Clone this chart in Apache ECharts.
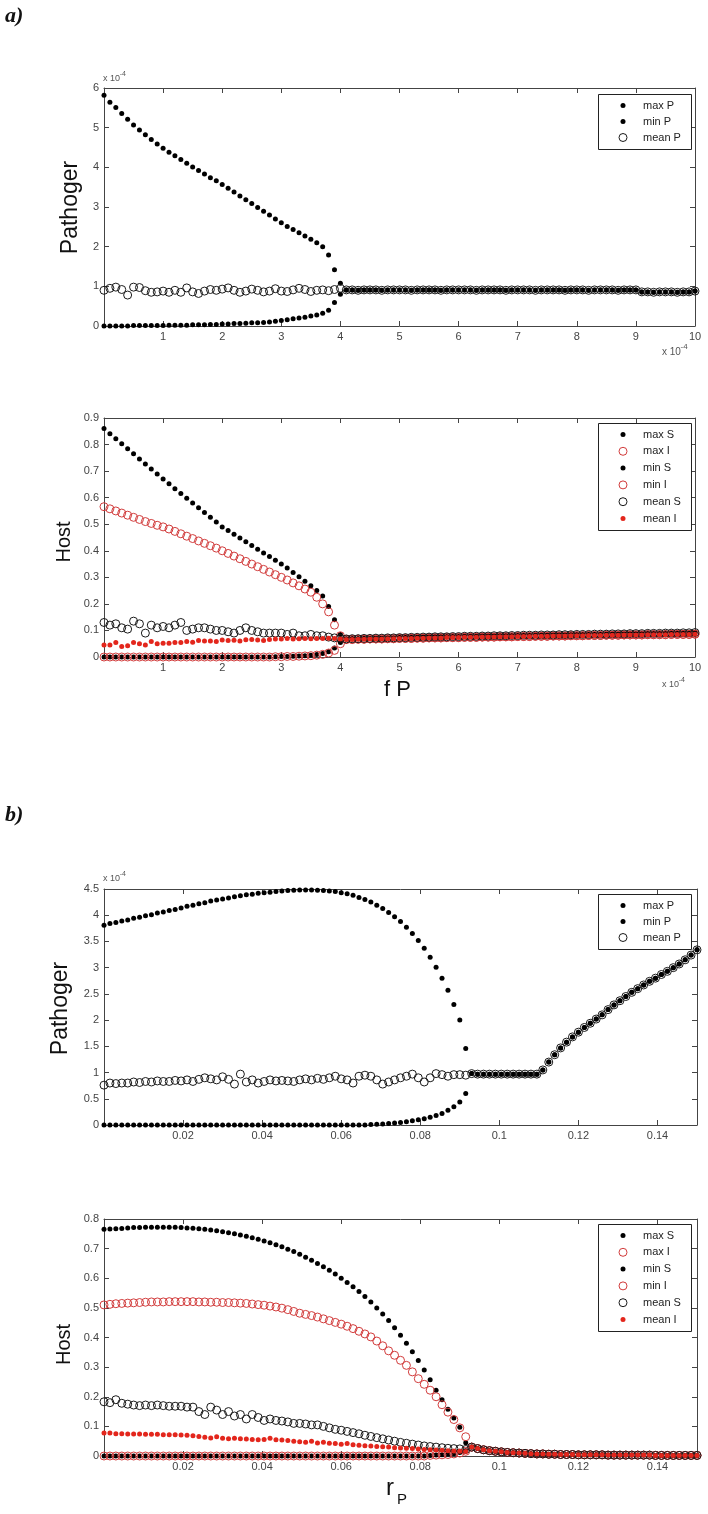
<!DOCTYPE html>
<html><head><meta charset="utf-8">
<script src="https://cdn.jsdelivr.net/npm/echarts@6/dist/echarts.min.js"></script>
<style>html,body{margin:0;padding:0;background:#fff}#c{width:708px;height:1514px}</style>
</head><body><div id="c"></div>
<script>
// ---------- x grids ----------
const xA = [0,0.1,0.2,0.3,0.4,0.5,0.6,0.7,0.8,0.9,1,1.1,1.2,1.3,1.4,1.5,1.6,1.7,1.8,1.9,2,2.1,2.2,2.3,2.4,2.5,2.6,2.7,2.8,2.9,3,3.1,3.2,3.3,3.4,3.5,3.6,3.7,3.8,3.9,4,4.1,4.2,4.3,4.4,4.5,4.6,4.7,4.8,4.9,5,5.1,5.2,5.3,5.4,5.5,5.6,5.7,5.8,5.9,6,6.1,6.2,6.3,6.4,6.5,6.6,6.7,6.8,6.9,7,7.1,7.2,7.3,7.4,7.5,7.6,7.7,7.8,7.9,8,8.1,8.2,8.3,8.4,8.5,8.6,8.7,8.8,8.9,9,9.1,9.2,9.3,9.4,9.5,9.6,9.7,9.8,9.9,10];
const xB = [0,0.0015,0.003,0.0045,0.006,0.0075,0.009,0.0105,0.012,0.0135,0.015,0.0165,0.018,0.0195,0.021,0.0225,0.024,0.0255,0.027,0.0285,0.03,0.0315,0.033,0.0345,0.036,0.0375,0.039,0.0405,0.042,0.0435,0.045,0.0465,0.048,0.0495,0.051,0.0525,0.054,0.0555,0.057,0.0585,0.06,0.0615,0.063,0.0645,0.066,0.0675,0.069,0.0705,0.072,0.0735,0.075,0.0765,0.078,0.0795,0.081,0.0825,0.084,0.0855,0.087,0.0885,0.09,0.0915,0.093,0.0945,0.096,0.0975,0.099,0.1005,0.102,0.1035,0.105,0.1065,0.108,0.1095,0.111,0.1125,0.114,0.1155,0.117,0.1185,0.12,0.1215,0.123,0.1245,0.126,0.1275,0.129,0.1305,0.132,0.1335,0.135,0.1365,0.138,0.1395,0.141,0.1425,0.144,0.1455,0.147,0.1485,0.15];

// ---------- panel a: Pathogen (x 1e-4) ----------
const aMaxP = [5.82,5.64,5.51,5.36,5.21,5.07,4.94,4.82,4.70,4.59,4.48,4.38,4.29,4.20,4.10,4.01,3.92,3.83,3.74,3.66,3.57,3.47,3.38,3.28,3.18,3.09,2.99,2.89,2.80,2.70,2.60,2.51,2.43,2.35,2.27,2.19,2.10,2.00,1.79,1.42,1.08];
const aMinP = [0,0,0,0,0,0.01,0.01,0.01,0.01,0.01,0.01,0.02,0.02,0.02,0.02,0.03,0.03,0.03,0.04,0.04,0.05,0.05,0.06,0.06,0.07,0.08,0.08,0.09,0.10,0.12,0.14,0.16,0.18,0.20,0.22,0.25,0.28,0.32,0.40,0.59,0.80];
const aMeanP = [0.90,0.95,0.98,0.92,0.78,0.98,0.97,0.89,0.85,0.86,0.88,0.85,0.90,0.85,0.96,0.86,0.82,0.88,0.92,0.90,0.93,0.96,0.90,0.85,0.88,0.93,0.90,0.86,0.88,0.94,0.88,0.87,0.91,0.95,0.92,0.87,0.90,0.91,0.89,0.92,0.95];
const aPeq = [0.91,0.91,0.90,0.91,0.91,0.91,0.90,0.91,0.91,0.91,0.91,0.90,0.91,0.91,0.91,0.91,0.90,0.91,0.91,0.91,0.91,0.91,0.90,0.91,0.91,0.91,0.91,0.90,0.91,0.91,0.91,0.91,0.90,0.91,0.91,0.91,0.91,0.90,0.91,0.91,0.91,0.90,0.91,0.91,0.91,0.91,0.90,0.91,0.91,0.91,0.86,0.86,0.85,0.86,0.86,0.86,0.85,0.86,0.86,0.88];

// ---------- panel a: Host ----------
const aMaxS = [0.86,0.841,0.822,0.803,0.784,0.765,0.746,0.727,0.708,0.689,0.67,0.652,0.634,0.616,0.598,0.58,0.562,0.544,0.526,0.508,0.49,0.476,0.462,0.448,0.434,0.42,0.406,0.392,0.378,0.364,0.35,0.335,0.318,0.302,0.285,0.268,0.25,0.23,0.19,0.14,0.085];
const aMaxI = [0.566,0.558,0.55,0.542,0.534,0.526,0.518,0.51,0.503,0.496,0.49,0.482,0.473,0.464,0.455,0.446,0.437,0.428,0.419,0.41,0.40,0.39,0.38,0.37,0.36,0.35,0.34,0.33,0.32,0.31,0.30,0.29,0.279,0.268,0.256,0.244,0.225,0.20,0.17,0.12,0.08];
const aMinS = [0,0,0,0,0,0,0,0,0,0,0,0,0,0,0,0,0,0,0,0,0,0,0,0,0,0,0,0,0,0.001,0.002,0.002,0.003,0.004,0.005,0.007,0.009,0.013,0.02,0.034,0.055];
const aMinI = [0,0,0,0,0,0,0,0,0,0,0,0,0,0,0,0,0,0,0,0,0,0,0,0,0,0,0,0,0,0.001,0.001,0.002,0.002,0.003,0.004,0.005,0.007,0.01,0.015,0.025,0.05];
const aMeanS = [0.13,0.12,0.125,0.11,0.105,0.135,0.125,0.09,0.12,0.11,0.115,0.11,0.12,0.13,0.10,0.105,0.11,0.11,0.105,0.10,0.10,0.095,0.09,0.10,0.11,0.10,0.095,0.09,0.09,0.09,0.09,0.085,0.09,0.08,0.08,0.085,0.08,0.08,0.075,0.072,0.07];
const aMeanI = [0.045,0.045,0.055,0.04,0.042,0.055,0.05,0.045,0.058,0.05,0.052,0.052,0.055,0.055,0.058,0.056,0.062,0.06,0.06,0.058,0.064,0.062,0.063,0.06,0.065,0.066,0.064,0.062,0.066,0.068,0.068,0.07,0.068,0.069,0.07,0.069,0.07,0.07,0.071,0.07,0.068];
const aSeq = [0.068,0.069,0.069,0.07,0.07,0.071,0.071,0.072,0.072,0.073,0.073,0.074,0.074,0.075,0.075,0.076,0.076,0.076,0.077,0.077,0.078,0.078,0.078,0.079,0.079,0.08,0.08,0.08,0.081,0.081,0.082,0.082,0.082,0.083,0.083,0.083,0.084,0.084,0.084,0.085,0.085,0.085,0.086,0.086,0.086,0.087,0.087,0.087,0.088,0.088,0.088,0.089,0.089,0.089,0.09,0.09,0.09,0.091,0.091,0.092];
const aIeq = [0.066,0.066,0.067,0.067,0.068,0.068,0.068,0.069,0.069,0.07,0.07,0.07,0.071,0.071,0.072,0.072,0.072,0.073,0.073,0.073,0.074,0.074,0.074,0.075,0.075,0.075,0.076,0.076,0.076,0.077,0.077,0.077,0.078,0.078,0.078,0.079,0.079,0.079,0.08,0.08,0.08,0.081,0.081,0.081,0.082,0.082,0.082,0.083,0.083,0.083,0.083,0.084,0.084,0.084,0.084,0.085,0.085,0.085,0.085,0.086];

// ---------- panel b: Pathogen (x 1e-4) ----------
const bMaxP = [3.81,3.84,3.86,3.89,3.91,3.94,3.96,3.99,4.01,4.04,4.06,4.09,4.11,4.14,4.17,4.19,4.22,4.24,4.27,4.29,4.31,4.33,4.35,4.37,4.39,4.40,4.42,4.43,4.44,4.45,4.46,4.47,4.475,4.48,4.48,4.48,4.475,4.47,4.46,4.45,4.43,4.41,4.38,4.34,4.30,4.25,4.19,4.13,4.05,3.97,3.88,3.77,3.65,3.52,3.37,3.20,3.01,2.80,2.57,2.30,2.00,1.46];
const bMinP = [0,0,0,0,0,0,0,0,0,0,0,0,0,0,0,0,0,0,0,0,0,0,0,0,0,0,0,0,0,0,0,0,0,0,0,0,0,0,0,0,0,0,0,0,0,0.01,0.015,0.02,0.03,0.04,0.05,0.06,0.08,0.10,0.12,0.15,0.18,0.22,0.28,0.35,0.44,0.60];
const bMeanP = [0.76,0.80,0.79,0.80,0.80,0.82,0.81,0.83,0.82,0.84,0.83,0.83,0.85,0.84,0.86,0.83,0.87,0.90,0.88,0.86,0.92,0.87,0.78,0.97,0.82,0.86,0.80,0.83,0.86,0.84,0.85,0.84,0.83,0.86,0.88,0.86,0.89,0.87,0.90,0.93,0.88,0.86,0.80,0.93,0.95,0.93,0.86,0.78,0.82,0.86,0.90,0.93,0.97,0.90,0.82,0.90,0.98,0.96,0.93,0.96,0.96,0.95];
const bPeq = [0.98,0.97,0.97,0.97,0.97,0.97,0.97,0.97,0.97,0.97,0.97,0.97,1.05,1.20,1.34,1.47,1.58,1.68,1.77,1.86,1.94,2.02,2.10,2.20,2.29,2.37,2.45,2.53,2.60,2.67,2.74,2.80,2.87,2.93,3.00,3.07,3.15,3.24,3.34];

// ---------- panel b: Host ----------
const bMaxS = [0.765,0.766,0.767,0.768,0.77,0.771,0.771,0.772,0.772,0.772,0.772,0.772,0.772,0.771,0.77,0.769,0.767,0.765,0.763,0.76,0.757,0.754,0.75,0.746,0.742,0.737,0.732,0.726,0.72,0.713,0.706,0.698,0.69,0.681,0.671,0.661,0.65,0.639,0.627,0.614,0.6,0.586,0.571,0.555,0.538,0.52,0.5,0.479,0.457,0.433,0.408,0.381,0.352,0.322,0.29,0.257,0.222,0.19,0.158,0.128,0.097,0.045];
const bMaxI = [0.51,0.512,0.514,0.515,0.516,0.517,0.518,0.519,0.52,0.52,0.52,0.521,0.521,0.521,0.521,0.521,0.52,0.52,0.519,0.519,0.518,0.518,0.517,0.516,0.515,0.513,0.511,0.509,0.506,0.503,0.499,0.494,0.488,0.482,0.478,0.474,0.469,0.463,0.457,0.451,0.445,0.438,0.43,0.421,0.412,0.402,0.388,0.372,0.355,0.34,0.323,0.306,0.284,0.261,0.242,0.222,0.2,0.173,0.148,0.123,0.095,0.065];
const bMinS = [0,0,0,0,0,0,0,0,0,0,0,0,0,0,0,0,0,0,0,0,0,0,0,0,0,0,0,0,0,0,0,0,0,0,0,0,0,0,0,0,0,0,0,0,0,0,0,0,0,0,0,0,0,0,0,0.002,0.003,0.004,0.006,0.008,0.012,0.018];
const bMinI = [0,0,0,0,0,0,0,0,0,0,0,0,0,0,0,0,0,0,0,0,0,0,0,0,0,0,0,0,0,0,0,0,0,0,0,0,0,0,0,0,0,0,0,0,0,0,0,0,0,0,0,0,0,0,0,0.002,0.003,0.004,0.005,0.007,0.01,0.016];
const bMeanS = [0.183,0.18,0.19,0.178,0.175,0.172,0.17,0.172,0.17,0.172,0.17,0.168,0.168,0.168,0.165,0.165,0.15,0.14,0.165,0.155,0.14,0.15,0.135,0.14,0.125,0.14,0.13,0.12,0.125,0.12,0.118,0.115,0.11,0.11,0.108,0.105,0.105,0.1,0.095,0.09,0.087,0.083,0.079,0.075,0.07,0.066,0.062,0.058,0.054,0.05,0.046,0.043,0.04,0.037,0.034,0.032,0.03,0.028,0.026,0.025,0.024,0.022];
const bMeanI = [0.078,0.078,0.075,0.075,0.074,0.074,0.074,0.073,0.073,0.073,0.072,0.072,0.072,0.071,0.07,0.068,0.066,0.063,0.061,0.065,0.06,0.058,0.06,0.058,0.057,0.056,0.055,0.056,0.06,0.055,0.054,0.052,0.05,0.048,0.046,0.05,0.044,0.046,0.043,0.042,0.04,0.042,0.038,0.036,0.035,0.034,0.032,0.031,0.03,0.028,0.027,0.026,0.025,0.024,0.022,0.021,0.02,0.019,0.018,0.017,0.016,0.015];
const bHeq = [0.03,0.025,0.021,0.018,0.016,0.014,0.012,0.011,0.01,0.009,0.008,0.007,0.007,0.006,0.006,0.005,0.005,0.005,0.004,0.004,0.004,0.004,0.004,0.003,0.003,0.003,0.003,0.003,0.003,0.003,0.003,0.002,0.002,0.002,0.002,0.002,0.002,0.002,0.002];

// ---------- labels ----------
const pathNames = ['max P','min P','mean P'];
const hostNames = ['max S','max I','min S','min I','mean S','mean I'];
const yTitles = ['Pathoger','Host','Pathoger','Host'];

// ---------- styles ----------
const STY = {
  dotK: {symbol:'circle', symbolSize:5, itemStyle:{color:'#000', opacity:1}},
  ringK:{symbol:'circle', symbolSize:8, ring:true, itemStyle:{color:'rgba(0,0,0,0)', borderColor:'#1a1a1a', borderWidth:1, opacity:1}},
  ringR:{symbol:'circle', symbolSize:8, ring:true, itemStyle:{color:'rgba(0,0,0,0)', borderColor:'#d23c3c', borderWidth:1, opacity:1}},
  dotR: {symbol:'circle', symbolSize:5, itemStyle:{color:'#e3261c', opacity:1}}
};
const pathStyles = ['dotK','dotK','ringK'];
const hostStyles = ['dotK','ringR','dotK','ringR','ringK','dotR'];

const panels = [
  {grid:{left:104,top:88,width:591,height:238}, xMax:10, xInt:1, yMax:6, yInt:1, xs:xA, maxLbl:true,
   names:pathNames, styles:pathStyles,
   ys:[aMaxP.concat(aPeq), aMinP.concat(aPeq), aMeanP.concat(aPeq)],
   legend:{x:598,y:94,w:93,h:55}},
  {grid:{left:104,top:418,width:591,height:239}, xMax:10, xInt:1, yMax:0.9, yInt:0.1, xs:xA, maxLbl:true,
   names:hostNames, styles:hostStyles,
   ys:[aMaxS.concat(aSeq), aMaxI.concat(aIeq), aMinS.concat(aSeq), aMinI.concat(aIeq), aMeanS.concat(aSeq), aMeanI.concat(aIeq)],
   legend:{x:598,y:423,w:93,h:107}},
  {grid:{left:104,top:889,width:593,height:236}, xMax:0.15, xInt:0.02, yMax:4.5, yInt:0.5, xs:xB, maxLbl:false,
   names:pathNames, styles:pathStyles,
   ys:[bMaxP.concat(bPeq), bMinP.concat(bPeq), bMeanP.concat(bPeq)],
   legend:{x:598,y:894,w:93,h:55}},
  {grid:{left:104,top:1219,width:593,height:237}, xMax:0.15, xInt:0.02, yMax:0.8, yInt:0.1, xs:xB, maxLbl:false,
   names:hostNames, styles:hostStyles,
   ys:[bMaxS.concat(bHeq), bMaxI.concat(bHeq), bMinS.concat(bHeq), bMinI.concat(bHeq), bMeanS.concat(bHeq), bMeanI.concat(bHeq)],
   legend:{x:598,y:1224,w:93,h:107}}
];

const AX = '#444';
const LBL = {color:'#444', fontSize:11, fontFamily:'"Liberation Sans", Arial, sans-serif'};
const grids=[], xAxes=[], yAxes=[], series=[], graphics=[];
function fmt(v){ return v===0 ? '' : String(+v.toFixed(4)); }

panels.forEach((p,i)=>{
  grids.push(Object.assign({containLabel:false}, p.grid));
  const tick = {show:true, inside:true, length:5, lineStyle:{color:AX, width:1}};
  const line = {show:true, onZero:false, lineStyle:{color:AX, width:1}};
  xAxes.push({type:'value', gridIndex:i, position:'bottom', min:0, max:p.xMax, interval:p.xInt,
    axisLine:line, axisTick:tick, splitLine:{show:false},
    axisLabel:Object.assign({margin:5, formatter:fmt, showMaxLabel:p.maxLbl, showMinLabel:true}, LBL)});
  xAxes.push({type:'value', gridIndex:i, position:'top', min:0, max:p.xMax, interval:p.xInt,
    axisLine:line, axisTick:tick, splitLine:{show:false}, axisLabel:{show:false}});
  yAxes.push({type:'value', gridIndex:i, position:'left', min:0, max:p.yMax, interval:p.yInt,
    axisLine:line, axisTick:tick, splitLine:{show:false},
    axisLabel:Object.assign({margin:5, formatter:v=>String(+v.toFixed(4))}, LBL)});
  yAxes.push({type:'value', gridIndex:i, position:'right', min:0, max:p.yMax, interval:p.yInt,
    axisLine:line, axisTick:tick, splitLine:{show:false}, axisLabel:{show:false}});
  p.names.forEach((nm,j)=>{
    const st = STY[p.styles[j]];
    series.push({type:'scatter', name:nm, xAxisIndex:2*i, yAxisIndex:2*i,
      symbol:st.symbol, symbolSize:st.symbolSize, itemStyle:st.itemStyle,
      data:p.xs.map((x,k)=>[x, p.ys[j][k]]), z:2+j, silent:true});
  });
  // legend box
  const b = p.legend, n = p.names.length, gap = (b.h-23)/(n-1);
  graphics.push({type:'rect', shape:{x:b.x+0.5, y:b.y+0.5, width:b.w, height:b.h}, style:{fill:'#fff', stroke:'#222', lineWidth:1}, z:100});
  p.names.forEach((nm,j)=>{
    const st = STY[p.styles[j]], cy = b.y+11.5+j*gap;
    graphics.push({type:'circle', shape:{cx:b.x+25, cy:cy, r:st.symbolSize/2},
      style: st.ring ? {fill:'none', stroke:st.itemStyle.borderColor, lineWidth:1} : {fill:st.itemStyle.color}, z:101});
    graphics.push({type:'text', x:b.x+45, y:cy, style:{text:nm, font:'11px "Liberation Sans", Arial, sans-serif', fill:'#222', align:'left', verticalAlign:'middle'}, z:101});
  });
});

// y titles
const yT = [[71,207.5,23],[64,542,20],[61,1008.5,23],[64,1344.5,20]];
yTitles.forEach((t,i)=>{
  graphics.push({type:'text', x:yT[i][0], y:yT[i][1], rotation:Math.PI/2,
    style:{text:t, font:yT[i][2]+'px "Liberation Sans", Arial, sans-serif', fill:'#111', align:'center', verticalAlign:'middle'}, z:100});
});
// panel tags
graphics.push({type:'text', x:5, y:16.5, style:{text:'a)', font:'italic bold 22px "Liberation Serif", serif', fill:'#111', align:'left', verticalAlign:'middle'}});
graphics.push({type:'text', x:5, y:815, style:{text:'b)', font:'italic bold 22px "Liberation Serif", serif', fill:'#111', align:'left', verticalAlign:'middle'}});
// x titles
graphics.push({type:'text', x:397.5, y:690, style:{text:'f P', font:'22px "Liberation Sans", Arial, sans-serif', fill:'#111', align:'center', verticalAlign:'middle'}});
graphics.push({type:'text', x:386, y:1488.5, style:{text:'r', font:'24px "Liberation Sans", Arial, sans-serif', fill:'#111', align:'left', verticalAlign:'middle'}});
graphics.push({type:'text', x:397, y:1499.5, style:{text:'P', font:'15px "Liberation Sans", Arial, sans-serif', fill:'#111', align:'left', verticalAlign:'middle'}});
// exponent multipliers
function mult(x,y,fs){
  graphics.push({type:'text', x:x, y:y, style:{text:'x 10', font:fs+'px "Liberation Sans", Arial, sans-serif', fill:'#555', align:'left', verticalAlign:'middle'}});
  graphics.push({type:'text', x:x+fs*1.85, y:y-fs*0.5, style:{text:'-4', font:Math.round(fs*0.75)+'px "Liberation Sans", Arial, sans-serif', fill:'#555', align:'left', verticalAlign:'middle'}});
}
mult(103,79,9);
mult(662,352,10);
mult(662,685,9);
mult(103,879,9);

const chart = echarts.init(document.getElementById('c'), null, {renderer:'canvas'});
chart.setOption({
  animation:false, backgroundColor:'#fff',
  grid:grids, xAxis:xAxes, yAxis:yAxes, series:series, graphic:graphics
});
</script>
</body></html>
